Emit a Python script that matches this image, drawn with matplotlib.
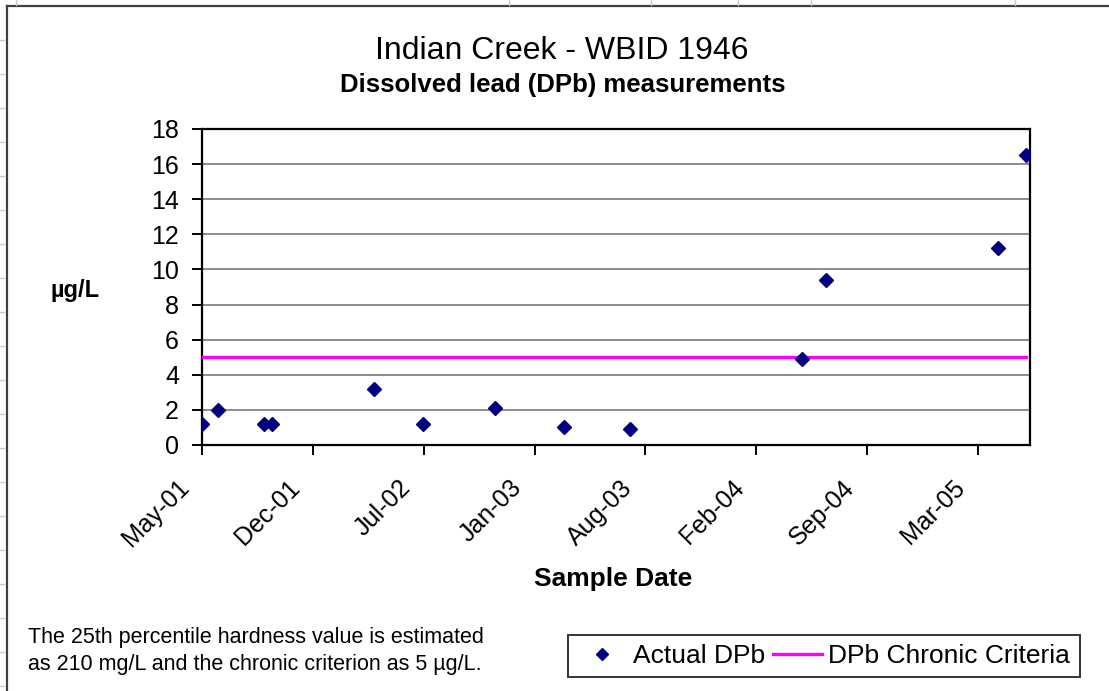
import pandas as pd
import matplotlib.pyplot as plt
from matplotlib.lines import Line2D
from matplotlib.transforms import ScaledTranslation

plt.rcParams['font.family'] = ['Liberation Sans', 'DejaVu Sans']

# sample dates and dissolved lead results (ug/L)
sample_dates = pd.to_datetime([
    "2001-05-29", "2001-06-27", "2001-09-17", "2001-10-03", "2002-04-04",
    "2002-07-01", "2002-11-08", "2003-03-13", "2003-07-10", "2004-05-15",
    "2004-06-28", "2005-05-04", "2005-06-24",
])
dpb_values = [1.2, 2.0, 1.2, 1.2, 3.2, 1.2, 2.1, 1.0, 0.9, 4.9, 9.4, 11.2, 16.5]
criteria_value = 5

# excel style date axis: ticks every 200 days from the first sample
tick_start = "2001-05-29"
tick_step = "200D"
n_ticks = 8
axis_end = "2005-07-01"
y_ticks = list(range(0, 19, 2))

W, H = 1109, 691
fig = plt.figure(figsize=(W / 100, H / 100), dpi=100)
ax = fig.add_axes([202 / W, 1 - 445 / H, (1030 - 202) / W, (445 - 129) / H])

ax.plot(sample_dates, dpb_values, linestyle='none', marker='D', ms=7.5,
        color='#000080', label='Actual DPb', zorder=4)
ax.plot([sample_dates[0], sample_dates[-1]], [criteria_value, criteria_value],
        color='#FF00FF', lw=2.4, label='DPb Chronic Criteria', zorder=3)

ax.set_ylim(0, 18)
ax.set_yticks(y_ticks)
ax.set_xlim(pd.Timestamp(tick_start), pd.Timestamp(axis_end))
xt = pd.date_range(tick_start, periods=n_ticks, freq=tick_step)
ax.set_xticks(xt)
ax.set_xticklabels([d.strftime('%b-%y') for d in xt])

ax.yaxis.grid(True, color='#8c8c8c', lw=1.4)
ax.set_axisbelow(True)
for s in ax.spines.values():
    s.set_linewidth(1.6)
    s.set_color('black')

ax.tick_params(axis='y', direction='out', length=7, width=1.4, labelsize=18, pad=9.5)
ax.tick_params(axis='x', direction='out', length=7, width=1.4, labelsize=18, pad=4)
shift = ScaledTranslation(-18 / 72, -11 / 72, fig.dpi_scale_trans)
for lab in ax.get_xticklabels():
    lab.set_rotation(45)
    lab.set_ha('right')
    lab.set_va('top')
    lab.set_rotation_mode('anchor')
    lab.set_transform(lab.get_transform() + shift)

# titles and labels
fig.text(562 / W, 1 - 59 / H, 'Indian Creek - WBID 1946', ha='center', va='baseline', fontsize=23)
fig.text(563 / W, 1 - 92 / H, 'Dissolved lead (DPb) measurements', ha='center', va='baseline',
         fontsize=18.5, fontweight='bold')
fig.text(75 / W, 1 - 297 / H, 'µg/L', ha='center', va='baseline', fontsize=17, fontweight='bold')
fig.text(613 / W, 1 - 586 / H, 'Sample Date', ha='center', va='baseline', fontsize=19, fontweight='bold')

fig.text(28 / W, 1 - 643 / H, 'The 25th percentile hardness value is estimated',
         ha='left', va='baseline', fontsize=15.5)
fig.text(28 / W, 1 - 670 / H, 'as 210 mg/L and the chronic criterion as 5 µg/L.',
         ha='left', va='baseline', fontsize=15.5)

leg = fig.legend(loc='center', bbox_to_anchor=(824 / W, 1 - 656 / H), ncol=2,
                 fontsize=19, frameon=True, fancybox=False, edgecolor='black',
                 handlelength=1.85, handletextpad=0.25, columnspacing=0.3,
                 borderpad=0.35, markerscale=0.75)
leg.get_frame().set_linewidth(1.4)

# chart area border and spreadsheet cell marks
fig.add_artist(Line2D([7 / W, 7 / W], [0, 1 - 6 / H], color='#404040', lw=1.6))
fig.add_artist(Line2D([7 / W, 1], [1 - 6 / H, 1 - 6 / H], color='#404040', lw=1.6))
for yy in range(40, H, 34):
    fig.add_artist(Line2D([0, 4 / W], [1 - yy / H, 1 - yy / H], color='#c8c8c8', lw=1))
for xx in [16, 509, 651, 738, 811, 1015]:
    fig.add_artist(Line2D([xx / W, xx / W], [1, 1 - 5 / H], color='#c8c8c8', lw=1))

fig.savefig('out.png', dpi=100)
